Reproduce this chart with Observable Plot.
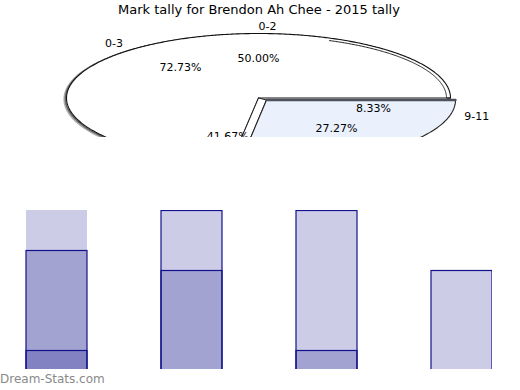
<!DOCTYPE html>
<html><head><meta charset="utf-8">
<script src="https://cdn.jsdelivr.net/npm/d3@7"></script>
<script src="https://cdn.jsdelivr.net/npm/@observablehq/plot@0.6"></script>
<style>
body{margin:0;background:#fff;}
#c{position:relative;width:520px;height:390px;overflow:hidden;font-family:"DejaVu Sans",sans-serif;background:#fff;}
#title{position:absolute;top:2px;left:0;width:518px;text-align:center;font-size:13px;line-height:16px;color:#000;}
#pie{position:absolute;top:18px;left:0;line-height:0;}
#bars{position:absolute;top:210px;left:0;line-height:0;}
#wm{position:absolute;left:0;top:372px;font-size:12px;line-height:15px;color:#8a8a8a;}
</style></head><body>
<div id="c">
  <div id="title">Mark tally for Brendon Ah Chee - 2015 tally</div>
  <div id="pie"></div>
  <div id="bars"></div>
  <div id="wm">Dream-Stats.com</div>
</div>
<script>
// ---- data ----
const pieALabels = ["9-11", "0-3"];
const pieAValues = [27.27, 72.73];
const pieBLabels = ["9-11", "3-5", "0-2"];
const pieBValues = [8.33, 41.67, 50.00];

const categories = ["0-2", "3-5", "6-8", "9-11"];
const seriesLight = [10, 8, 8, 5];
const seriesMid = [6, 5, 1, 0];
const seriesDark = [1, 0, 0, 0];

// ---- pie ----
const RX = 192, RY = 64.5;
const pie = d3.pie().sort(null).startAngle(0).endAngle(2 * Math.PI);
const arcsA = pie(pieAValues).map((d, i) => ({...d, label: pieALabels[i]}));
const arcsB = pie(pieBValues).map((d, i) => ({...d, label: pieBLabels[i]}));

function arcPts(a0, a1, ox, oy, kx = 1, ky = 1, withCenter = true) {
  const pts = [];
  if (withCenter) pts.push({x: ox, y: oy});
  const n = Math.max(2, Math.ceil((a1 - a0) / (Math.PI / 360)));
  for (let i = 0; i <= n; i++) {
    const a = a0 + (a1 - a0) * i / n;
    pts.push({x: ox + kx * Math.cos(a), y: oy + ky * Math.sin(a)});
  }
  if (withCenter) pts.push({x: ox, y: oy});
  return pts;
}
const white = arcsA[1], blue = arcsA[0];
const bx = 8 / RX, by = 2 / RY; // explode offset
const bk = (RX - 3) / RX;
const whitePoly = arcPts(white.startAngle, white.endAngle, 0, 0);
const shadow1 = arcPts(white.startAngle, white.endAngle, -2 / RX, 1.2 / RY, 1, 1, false);
const shadow2 = arcPts(white.startAngle, white.endAngle, -1 / RX, 0.6 / RY, 1, 1, false);
const rimInner = arcPts(5.1, white.endAngle, 0, 0, 1 - 4 / RX, 1 - 2.5 / RY, false);
rimInner.push({x: 1, y: 0});
const ea = blue.endAngle;
const strip = [{x: 0, y: 0}, {x: Math.cos(ea), y: Math.sin(ea)},
  {x: bx + bk * Math.cos(ea), y: by + Math.sin(ea)}, {x: bx, y: by}, {x: 0, y: 0}];
const bluePoly = arcPts(blue.startAngle, blue.endAngle, bx, by, bk, 1);
const blueTop = [{x: bx, y: by}, {x: bx + bk, y: by}];

function labelRows(arcs) {
  return arcs.map(d => {
    const m = (d.startAngle + d.endAngle) / 2;
    return {
      ix: 0.62 * Math.cos(m), iy: 0.62 * Math.sin(m),
      ox: 1.11 * Math.cos(m), oy: 1.11 * Math.sin(m),
      right: Math.cos(m) > -1e-6,
      pct: d.value.toFixed(2) + "%", label: d.label
    };
  });
}
const labs = [...labelRows(arcsA), ...labelRows(arcsB)];

const pieChart = Plot.plot({
  width: 520, height: 119, margin: 0,
  x: {domain: [-1, 1], range: [258 - RX, 258 + RX], axis: null},
  y: {domain: [-1, 1], range: [79.5 - RY, 79.5 + RY], axis: null},
  style: {fontFamily: "DejaVu Sans, sans-serif", fontSize: "11px", background: "transparent"},
  marks: [
    Plot.line(shadow1, {x: "x", y: "y", stroke: "#b0b0b0", strokeWidth: 2.2, clip: true}),
    Plot.line(shadow2, {x: "x", y: "y", stroke: "#666", strokeWidth: 1.6, clip: true}),
    Plot.line(whitePoly, {x: "x", y: "y", fill: "#fff", stroke: "#111", strokeWidth: 1.1, clip: true}),
    Plot.line(rimInner, {x: "x", y: "y", stroke: "#222", strokeWidth: 1, clip: true}),
    Plot.line(strip, {x: "x", y: "y", fill: "#fff", stroke: "#222", strokeWidth: 1, clip: true}),
    Plot.line(bluePoly, {x: "x", y: "y", fill: "#eaf0fc", stroke: "#222", strokeWidth: 1.1, clip: true}),
    Plot.line(blueTop, {x: "x", y: "y", stroke: "#4c515c", strokeWidth: 2.4, clip: true}),
    Plot.text(labs, {x: "ix", y: "iy", text: "pct", fill: "#000", clip: true}),
    Plot.text(labs.filter(d => d.right), {x: "ox", y: "oy", text: "label", textAnchor: "start", fill: "#000", clip: true}),
    Plot.text(labs.filter(d => !d.right), {x: "ox", y: "oy", text: "label", textAnchor: "end", dx: 4, fill: "#000", clip: true})
  ]
});
document.getElementById("pie").appendChild(pieChart);

// ---- bars ----
const series = [["light", seriesLight], ["mid", seriesMid], ["dark", seriesDark]];
const rows = [];
series.forEach(([s, vals]) => vals.forEach((v, i) => rows.push({cat: categories[i], series: s, value: v})));
const YMAX = 8;
const barMarks = [];
series.forEach(([s]) => {
  const data = rows.filter(d => d.series === s && d.value > 0);
  barMarks.push(Plot.barY(data, {x: "cat", y: "value", fill: "#000080", fillOpacity: 0.2, clip: true}));
  barMarks.push(Plot.barY(data.filter(d => d.value <= YMAX), {x: "cat", y: "value", fill: "none", stroke: "#12128e", strokeWidth: 1.2, clip: true}));
});
const barChart = Plot.plot({
  width: 492, height: 159, margin: 0,
  x: {type: "band", domain: categories, range: [-11.75, 530.25], paddingInner: 0.55, paddingOuter: 0.275, align: 0.5, axis: null},
  y: {domain: [0, YMAX], range: [160.5, 0.5], axis: null},
  style: {background: "transparent"},
  marks: barMarks
});
document.getElementById("bars").appendChild(barChart);
</script>
</body></html>
